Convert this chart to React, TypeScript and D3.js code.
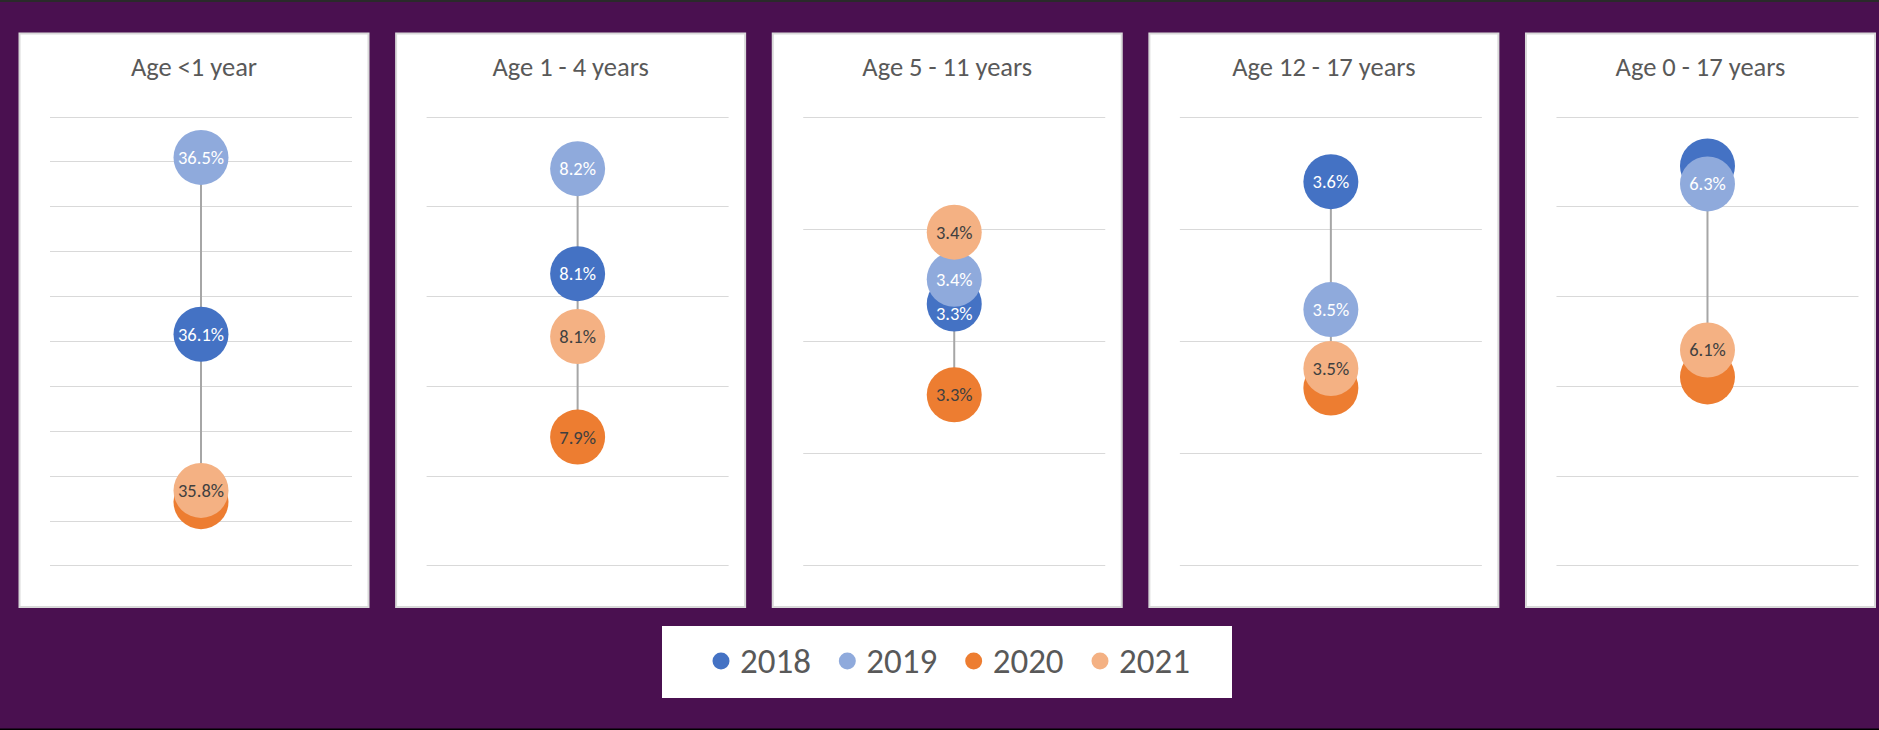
import React from 'react';
import * as d3 from 'd3';

const W = 1879;
const H = 730;

const panels = ['Age <1 year', 'Age 1 - 4 years', 'Age 5 - 11 years', 'Age 12 - 17 years', 'Age 0 - 17 years'];
const years = ['2018', '2019', '2020', '2021'];
const v2018 = [36.115, 8.125, 3.333, 3.642, 6.345];
const v2019 = [36.509, 8.242, 3.355, 3.528, 6.325];
const v2020 = [35.742, 7.943, 3.252, 3.458, 6.11];
const v2021 = [35.767, 8.055, 3.397, 3.4755, 6.14];
const axisMin = [35.6, 7.8, 3.1, 3.3, 5.9];
const axisMax = [36.6, 8.3, 3.5, 3.7, 6.4];
const axisStep = [0.1, 0.1, 0.1, 0.1, 0.1];

const seriesValues = [v2018, v2019, v2020, v2021];
const colors = ['#4472C4', '#8FAADC', '#ED7D31', '#F4B183'];
const labelColors = ['#ffffff', '#ffffff', '#404040', '#404040'];
// label nudges (Excel moved one label) and labels not shown in the original
const LABEL_NUDGE: Record<string, number> = { '2-0': 10 };
const HIDDEN_LABELS = new Set(['0-2', '3-2', '4-2', '4-0']);

const FONT = 'Carlito, Lato, sans-serif';

export default function App() {
  const panelX = d3.scaleBand<string>().domain(panels).range([19.5, 1875]).paddingInner(0.0733);
  const panelTop = 33.5;
  const panelBottom = 607;
  const plotTop = 116.6;
  const plotBottom = 565.4;
  const R = 27.5;
  const fmt = (v: number) => d3.format('.1f')(v) + '%';
  const legendX = d3.scalePoint<string>().domain(years).range([721, 1100]);

  return (
    <svg width={W} height={H} style={{ position: 'absolute', left: 0, top: 0, display: 'block' }} fontFamily={FONT}>
      <rect x={0} y={0} width={W} height={H} fill="#4a1050" />
      <rect x={0} y={0} width={W} height={2} fill="#2a2a2a" />
      <rect x={0} y={728.5} width={W} height={1.5} fill="#000" />
      {panels.map((p, pi) => {
        const L = panelX(p)!;
        const bw = panelX.bandwidth();
        const x0 = L + 30.5;
        const x1 = L + 332.5;
        const cx = (x0 + x1) / 2;
        const y = d3.scaleLinear().domain([axisMin[pi], axisMax[pi]]).range([plotBottom, plotTop]);
        const n = Math.round((axisMax[pi] - axisMin[pi]) / axisStep[pi]);
        const ticks = d3.range(n + 1).map((i) => axisMin[pi] + i * axisStep[pi]);
        const vals = seriesValues.map((s) => s[pi]);
        const vmin = d3.min(vals)!;
        const vmax = d3.max(vals)!;
        return (
          <g key={p}>
            <rect x={L} y={panelTop} width={bw} height={panelBottom - panelTop} fill="#fff" stroke="#d9d9d9" strokeWidth={2} />
            <text x={L + bw / 2} y={75.5} textAnchor="middle" fontSize={26.5} fill="#595959">{p}</text>
            {ticks.map((t, ti) => (
              <line key={ti} x1={x0} x2={x1} y1={Math.round(y(t)) + 0.5} y2={Math.round(y(t)) + 0.5} stroke="#d9d9d9" strokeWidth={1} />
            ))}
            <line x1={cx} x2={cx} y1={y(vmax)} y2={y(vmin)} stroke="#a6a6a6" strokeWidth={2} />
            {seriesValues.map((s, si) => (
              <g key={si}>
                <circle cx={cx} cy={y(s[pi])} r={R} fill={colors[si]} />
                {!HIDDEN_LABELS.has(`${pi}-${si}`) && (
                  <text x={cx} y={y(s[pi]) + (LABEL_NUDGE[`${pi}-${si}`] || 0)} dy="0.35em" textAnchor="middle" fontSize={18.5} fill={labelColors[si]}>
                    {fmt(s[pi])}
                  </text>
                )}
              </g>
            ))}
          </g>
        );
      })}
      <rect x={662} y={626} width={570} height={72} fill="#fff" />
      {years.map((yr, i) => (
        <g key={yr}>
          <circle cx={legendX(yr)} cy={661} r={8.5} fill={colors[i]} />
          <text x={legendX(yr)! + 19} y={673} fontSize={35} fill="#595959">{yr}</text>
        </g>
      ))}
    </svg>
  );
}
